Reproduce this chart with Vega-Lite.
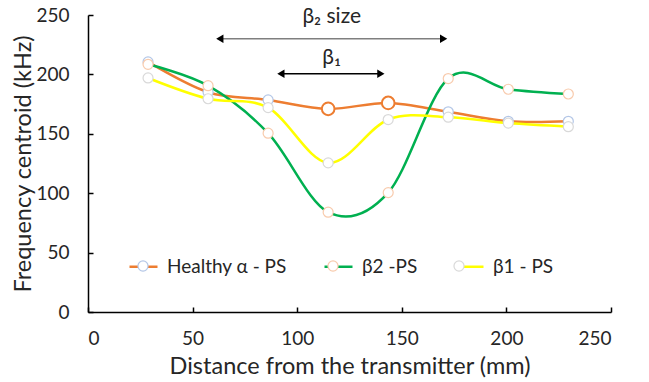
{
  "$schema": "https://vega.github.io/schema/vega-lite/v6.json",
  "width": 523,
  "height": 297,
  "autosize": {"type": "none"},
  "padding": {"left": 88, "top": 15, "right": 38, "bottom": 70},
  "background": "white",
  "config": {
    "view": {"stroke": null},
    "font": "Lato",
    "axis": {
      "grid": false,
      "domainColor": "black",
      "domainWidth": 1.5,
      "tickColor": "black",
      "tickWidth": 1.5,
      "tickSize": -5,
      "labelFontSize": 19,
      "labelColor": "#262626",
      "titleFontSize": 23.5,
      "titleFontWeight": "normal",
      "titleColor": "#262626"
    },
    "legend": {
      "orient": "none",
      "legendX": 40,
      "legendY": 236,
      "direction": "horizontal",
      "columns": 3,
      "padding": 0,
      "symbolSize": 784,
      "labelFontSize": 19,
      "labelColor": "#262626",
      "labelOffset": 8,
      "columnPadding": 32,
      "title": null
    }
  },
  "datasets": {
    "pts": [
      {"series": "Healthy α - PS", "x": 28.7, "y": 210.5},
      {"series": "Healthy α - PS", "x": 57.4, "y": 185},
      {"series": "Healthy α - PS", "x": 86.1, "y": 178.5},
      {"series": "Healthy α - PS", "x": 114.8, "y": 171},
      {"series": "Healthy α - PS", "x": 143.5, "y": 176},
      {"series": "Healthy α - PS", "x": 172.2, "y": 168.5},
      {"series": "Healthy α - PS", "x": 200.9, "y": 160.5},
      {"series": "Healthy α - PS", "x": 229.6, "y": 160.5},
      {"series": "β2 -PS", "x": 28.7, "y": 208.5},
      {"series": "β2 -PS", "x": 57.4, "y": 190.5},
      {"series": "β2 -PS", "x": 86.1, "y": 150.5},
      {"series": "β2 -PS", "x": 114.8, "y": 84},
      {"series": "β2 -PS", "x": 143.5, "y": 100.5},
      {"series": "β2 -PS", "x": 172.2, "y": 196.5},
      {"series": "β2 -PS", "x": 200.9, "y": 187.5},
      {"series": "β2 -PS", "x": 229.6, "y": 183.5},
      {"series": "β1 - PS", "x": 28.7, "y": 197},
      {"series": "β1 - PS", "x": 57.4, "y": 179.5},
      {"series": "β1 - PS", "x": 86.1, "y": 172},
      {"series": "β1 - PS", "x": 114.8, "y": 125.5},
      {"series": "β1 - PS", "x": 143.5, "y": 162},
      {"series": "β1 - PS", "x": 172.2, "y": 164},
      {"series": "β1 - PS", "x": 200.9, "y": 159},
      {"series": "β1 - PS", "x": 229.6, "y": 156}
    ],
    "arr": [
      {"name": "β₂ size", "start": 63, "end": 170, "level": 230, "mid": 116.5, "ty": 248.5},
      {"name": "β₁", "start": 92.2, "end": 140, "level": 200.5, "mid": 116.5, "ty": 214}
    ]
  },
  "layer": [
    {
      "data": {"name": "pts"},
      "mark": {"type": "line", "interpolate": "cardinal", "strokeWidth": 2.5},
      "encoding": {
        "x": {"field": "x", "type": "quantitative", "scale": {"domain": [0, 250], "nice": false},
              "axis": {"values": [0, 50, 100, 150, 200, 250], "title": "Distance from the transmitter (mm)", "labelPadding": 22, "titlePadding": 6}},
        "y": {"field": "y", "type": "quantitative", "scale": {"domain": [0, 250], "nice": false},
              "axis": {"values": [0, 50, 100, 150, 200, 250], "title": "Frequency centroid (kHz)", "labelPadding": 24, "titlePadding": 0}},
        "color": {"field": "series", "type": "nominal",
                  "sort": ["Healthy α - PS", "β2 -PS", "β1 - PS"],
                  "scale": {"range": ["#ed7d31", "#00b050", "#ffff00"]},
                  "legend": {"symbolType": "stroke", "symbolStrokeWidth": 2.5}}
      }
    },
    {
      "data": {"name": "pts"},
      "transform": [{"fold": ["series"], "as": ["k", "m"]}],
      "mark": {"type": "point", "filled": true, "fill": "white", "size": 100, "strokeWidth": 1.2, "opacity": 1},
      "encoding": {
        "x": {"field": "x", "type": "quantitative"},
        "y": {"field": "y", "type": "quantitative"},
        "stroke": {"field": "m", "type": "nominal",
                   "sort": ["Healthy α - PS", "β2 -PS", "β1 - PS"],
                   "scale": {"range": ["#b4c7e7", "#f8cbad", "#d9d9d9"]},
                   "legend": {"symbolType": "M0.36,0A0.36,0.36 0 1,1 -0.36,0A0.36,0.36 0 1,1 0.36,0Z", "symbolFillColor": "white", "symbolStrokeWidth": 1.2, "labelOpacity": 0}}
      }
    },
    {
      "data": {"name": "pts"},
      "transform": [{"filter": "datum.series == 'Healthy α - PS' && datum.x > 100 && datum.x < 150"}],
      "mark": {"type": "point", "filled": true, "fill": "white", "stroke": "#ed7d31", "size": 160, "strokeWidth": 2, "opacity": 1},
      "encoding": {
        "x": {"field": "x", "type": "quantitative"},
        "y": {"field": "y", "type": "quantitative"}
      }
    },
    {
      "data": {"name": "arr"},
      "transform": [{"filter": "datum.name == 'β₂ size'"}],
      "mark": {"type": "rule", "strokeWidth": 1.5, "color": "#7f7f7f"},
      "encoding": {
        "x": {"field": "start", "type": "quantitative"},
        "x2": {"field": "end"},
        "y": {"field": "level", "type": "quantitative"}
      }
    },
    {
      "data": {"name": "arr"},
      "transform": [{"filter": "datum.name == 'β₁'"}],
      "mark": {"type": "rule", "strokeWidth": 1.5, "color": "#000000"},
      "encoding": {
        "x": {"field": "start", "type": "quantitative"},
        "x2": {"field": "end"},
        "y": {"field": "level", "type": "quantitative"}
      }
    },
    {
      "data": {"name": "arr"},
      "mark": {"type": "point", "shape": "triangle-left", "filled": true, "color": "black", "size": 70, "opacity": 1},
      "encoding": {
        "x": {"field": "start", "type": "quantitative"},
        "y": {"field": "level", "type": "quantitative"}
      }
    },
    {
      "data": {"name": "arr"},
      "mark": {"type": "point", "shape": "triangle-right", "filled": true, "color": "black", "size": 70, "opacity": 1},
      "encoding": {
        "x": {"field": "end", "type": "quantitative"},
        "y": {"field": "level", "type": "quantitative"}
      }
    },
    {
      "data": {"name": "arr"},
      "mark": {"type": "text", "fontSize": 21, "color": "#262626", "baseline": "middle", "align": "center"},
      "encoding": {
        "x": {"field": "mid", "type": "quantitative"},
        "y": {"field": "ty", "type": "quantitative"},
        "text": {"field": "name"}
      }
    }
  ]
}
